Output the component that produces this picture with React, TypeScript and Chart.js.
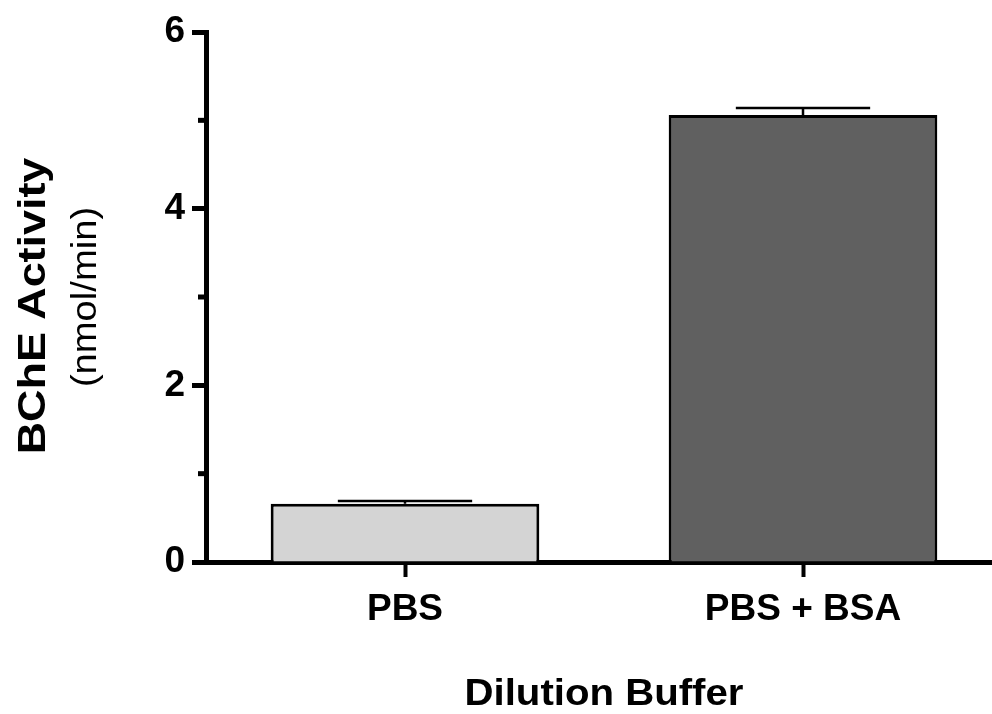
import React, { useEffect, useRef } from "react";
import { Chart, registerables } from "chart.js";

Chart.register(...registerables);

const categories = ["PBS", "PBS + BSA"];
const means = [0.66, 5.06];
const errors = [0.03, 0.08];
const barColors = ["#d4d4d4", "#606060"];
const yMin = 0;
const yMax = 6;
const yStep = 1;
const yTitle = "BChE Activity";
const ySubtitle = "(nmol/min)";
const xTitle = "Dilution Buffer";

const FONT = '"Liberation Sans", Arial, Helvetica, sans-serif';

function drawText(
  ctx: CanvasRenderingContext2D,
  text: string,
  x: number,
  y: number,
  rot: number,
  font: string,
  sx: number
) {
  ctx.save();
  ctx.translate(x, y);
  ctx.rotate(rot);
  ctx.scale(sx, 1);
  ctx.font = font;
  ctx.fillStyle = "#000";
  ctx.textAlign = "center";
  ctx.textBaseline = "alphabetic";
  ctx.fillText(text, 0, 0);
  ctx.restore();
}

const extrasPlugin = {
  id: "extras",
  afterDatasetsDraw(chart: any) {
    const ctx = chart.ctx as CanvasRenderingContext2D;
    const yScale = chart.scales.y;
    const meta = chart.getDatasetMeta(0);
    ctx.save();
    ctx.strokeStyle = "#000";
    ctx.lineWidth = 2.5;
    meta.data.forEach((el: any, i: number) => {
      const top = yScale.getPixelForValue(means[i] + errors[i]);
      const half = el.width / 4;
      ctx.beginPath();
      ctx.moveTo(el.x, el.y);
      ctx.lineTo(el.x, top);
      ctx.moveTo(el.x - half, top);
      ctx.lineTo(el.x + half, top);
      ctx.stroke();
    });
    ctx.restore();
  },
  afterDraw(chart: any) {
    const ctx = chart.ctx as CanvasRenderingContext2D;
    const area = chart.chartArea;
    const yScale = chart.scales.y;
    ctx.save();
    ctx.strokeStyle = "#000";
    ctx.lineWidth = 5;
    yScale.ticks.forEach((t: any) => {
      if (t.value % 2 !== 0) {
        const py = yScale.getPixelForValue(t.value);
        ctx.beginPath();
        ctx.moveTo(area.left - 8, py);
        ctx.lineTo(area.left, py);
        ctx.stroke();
      }
    });
    ctx.restore();
    const cy = (area.top + area.bottom) / 2;
    const cx = (area.left + area.right) / 2;
    drawText(ctx, yTitle, 45, cy + 9, -Math.PI / 2, `bold 39px ${FONT}`, 1.15);
    drawText(ctx, ySubtitle, 95.5, cy, -Math.PI / 2, `35px ${FONT}`, 1.09);
    drawText(ctx, xTitle, cx, 705, 0, `bold 36px ${FONT}`, 1.116);
  },
};

export default function App() {
  const ref = useRef<HTMLCanvasElement | null>(null);
  useEffect(() => {
    if (!ref.current) return;
    const chart = new Chart(ref.current, {
      type: "bar",
      data: {
        labels: categories,
        datasets: [
          {
            data: means,
            backgroundColor: barColors,
            borderColor: "#000",
            borderWidth: 3,
            categoryPercentage: 1,
            barPercentage: 0.675,
          },
        ],
      },
      options: {
        animation: false,
        responsive: false,
        devicePixelRatio: 1,
        layout: { padding: { top: 32, left: 0, right: 0, bottom: 0 } },
        plugins: {
          legend: { display: false },
          tooltip: { enabled: false },
        },
        scales: {
          x: {
            type: "category",
            offset: true,
            afterFit: (scale: any) => {
              scale.height = 152;
            },
            grid: {
              offset: false,
              drawOnChartArea: false,
              drawTicks: true,
              tickLength: 15,
              tickWidth: 4,
              tickColor: "#000",
            },
            border: { display: true, color: "#000", width: 5 },
            ticks: {
              color: "#000",
              font: { family: FONT, size: 37, weight: "bold" },
              padding: 11,
              maxRotation: 0,
              autoSkip: false,
            },
          },
          y: {
            min: yMin,
            max: yMax,
            afterFit: (scale: any) => {
              scale.width = 206;
            },
            grid: {
              drawOnChartArea: false,
              drawTicks: true,
              tickLength: 14,
              tickWidth: 5,
              tickColor: (c: any) =>
                c.tick && c.tick.value % 2 === 0 ? "#000" : "rgba(0,0,0,0)",
            },
            border: { display: true, color: "#000", width: 5 },
            ticks: {
              stepSize: yStep,
              color: "#000",
              font: { family: FONT, size: 37, weight: "bold" },
              padding: 7,
              callback: (v: any) => (Number(v) % 2 === 0 ? String(v) : ""),
            },
          },
        },
      },
      plugins: [extrasPlugin],
    } as any);
    return () => chart.destroy();
  }, []);
  return (
    <div
      style={{
        position: "absolute",
        left: 0,
        top: 0,
        width: 992,
        height: 714,
        overflow: "hidden",
        background: "#fff",
      }}
    >
      <canvas ref={ref} width={1002} height={714} style={{ width: 1002, height: 714, display: "block" }} />
    </div>
  );
}
